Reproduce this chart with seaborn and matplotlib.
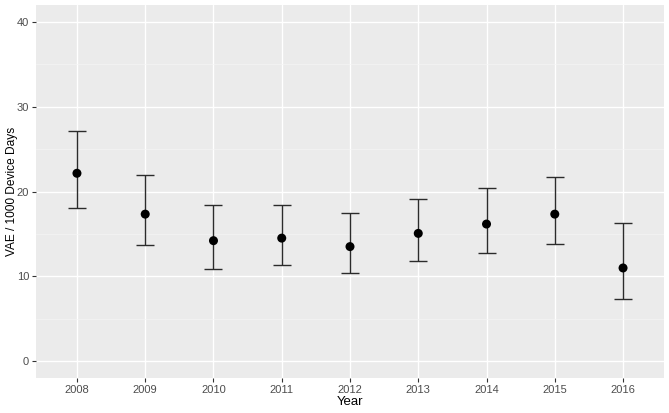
import matplotlib
matplotlib.use("Agg")
import matplotlib.pyplot as plt
import seaborn as sns
import pandas as pd
from matplotlib.ticker import MultipleLocator

years = ["2008", "2009", "2010", "2011", "2012", "2013", "2014", "2015", "2016"]
rate = [22.15, 17.33, 14.2, 14.5, 13.5, 15.06, 16.16, 17.33, 10.98]
lower = [18.0, 13.7, 10.9, 11.3, 10.35, 11.84, 12.75, 13.84, 7.29]
upper = [27.1, 21.9, 18.35, 18.4, 17.5, 19.14, 20.47, 21.76, 16.3]

df = pd.DataFrame({"Year": years, "rate": rate, "lower": lower, "upper": upper})

sns.set_theme(style="darkgrid", rc={
    "axes.facecolor": "#EBEBEB",
    "grid.color": "white",
    "axes.edgecolor": "#EBEBEB",
})
plt.rcParams["font.family"] = ["Liberation Sans", "DejaVu Sans"]

fig = plt.figure(figsize=(6.69, 4.13), dpi=100)
ax = fig.add_axes([36 / 669, 35 / 413, 628 / 669, 373 / 413])

# error bars (ggplot geom_errorbar, width 0.2)
ax.errorbar(df["Year"], df["rate"],
            yerr=[df["rate"] - df["lower"], df["upper"] - df["rate"]],
            fmt="none", ecolor="#2b2b2b", elinewidth=1.0, capsize=6.5,
            capthick=1.0, zorder=3)
sns.scatterplot(data=df, x="Year", y="rate", color="black", s=42,
                edgecolor="none", zorder=4, ax=ax)

ax.set_xlim(-0.6, len(years) - 1 + 0.6)
ax.set_ylim(-2, 42)
ax.yaxis.set_major_locator(MultipleLocator(10))
ax.yaxis.set_minor_locator(MultipleLocator(5))
ax.grid(which="major", color="white", linewidth=1.0)
ax.grid(which="minor", axis="y", color="#F5F5F5", linewidth=0.5)
ax.set_axisbelow(True)
for s in ax.spines.values():
    s.set_visible(False)

ax.tick_params(axis="both", which="major", length=3, width=0.8, color="#333333",
               labelsize=8, labelcolor="#4D4D4D", pad=2, left=True, bottom=True)
ax.tick_params(axis="both", which="minor", length=0)

ax.set_xlabel("Year", fontsize=9.5, color="black", labelpad=1)
ax.set_ylabel("VAE / 1000 Device Days", fontsize=8.6, color="black", labelpad=-1)

fig.savefig("out.png", dpi=100)
plt.close(fig)
